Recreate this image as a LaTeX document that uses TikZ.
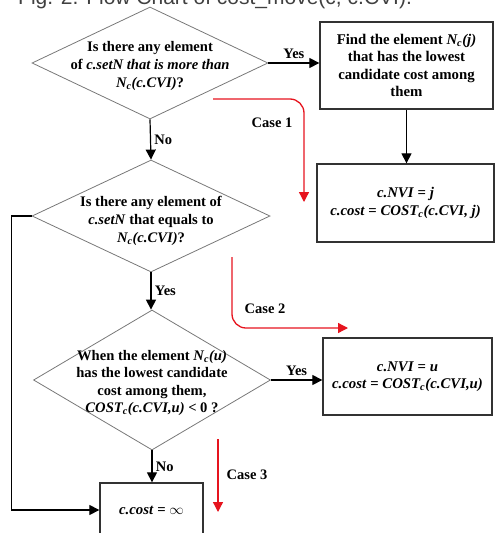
\documentclass[tikz,border=0pt]{standalone}
\usepackage{fontspec}
\setmainfont{Liberation Serif}
\newfontfamily\titlefont{Liberation Sans}
\usepackage{tikz}
\usetikzlibrary{shapes.geometric, arrows.meta, calc}
\definecolor{diamondline}{RGB}{120,120,120}
\definecolor{boxline}{RGB}{50,50,50}
\definecolor{casered}{RGB}{230,20,30}

\begin{document}
\begin{tikzpicture}[x=1pt, y=-1pt,
        decision/.style={diamond, draw=diamondline, line width=0.8pt, inner sep=0pt},
        process/.style={rectangle, draw=boxline, line width=1.3pt, inner sep=0pt, align=center, font=\fontsize{14.8}{17.5}\selectfont\bfseries},
        dtext/.style={align=center, inner sep=0pt, font=\fontsize{14.6}{18}\selectfont\bfseries},
        lbl/.style={font=\fontsize{14.5}{17}\selectfont\bfseries},
        flow/.style={draw, line width=1.2pt, -{Triangle[length=10pt, width=10pt]}},
        casearrow/.style={draw=casered, line width=1.3pt, rounded corners=14pt, -{Triangle[length=10pt, width=10pt]}}
    ]
    \useasboundingbox (0,0) rectangle (497,533);

    % caption, cut at the top edge
    \node[anchor=base west, inner sep=0pt, text=black!75, font=\titlefont\fontsize{21}{25}\selectfont] (title) at (18,4) {Fig. 2. Flow Chart of cost\_move(c, c.CVI).};

    % decisions
    \node[decision, minimum width=236pt, minimum height=112pt] (d1) at (150,63) {};
    \node[dtext] (d1txt) at (150,66) {Is there any element\\of \textit{c.setN that is more than}\\\textit{N\textsubscript{c}(c.CVI)}?};

    \node[decision, minimum width=238pt, minimum height=112pt] (d2) at (151,216) {};
    \node[dtext] (d2txt) at (151,221) {Is there any element of\\\textit{c.setN} that equals to\\\textit{N\textsubscript{c}(c.CVI)}?};

    \node[decision, minimum width=237pt, minimum height=140pt] (d3) at (152,380) {};
    \node[dtext, font=\fontsize{14.6}{17.5}\selectfont\bfseries] (d3txt) at (152,383) {When the element \textit{N\textsubscript{c}(u)}\\has the lowest candidate\\cost among them,\\\textit{COST\textsubscript{c}(c.CVI,u)} < 0 ?};

    % process boxes
    \node[process, minimum width=173pt, minimum height=87pt] (b1) at (406.5,65.5) {Find the element \textit{N\textsubscript{c}(j)}\\that has the lowest\\candidate cost among\\them};
    \node[process, minimum width=177pt, minimum height=78pt] (b2) at (405.5,203) {\textit{c.NVI} = \textit{j}\\\textit{c.cost} = \textit{COST\textsubscript{c}(c.CVI, j)}};
    \node[process, minimum width=169pt, minimum height=77pt] (b3) at (407.5,376.5) {\textit{c.NVI} = \textit{u}\\\textit{c.cost} = \textit{COST\textsubscript{c}(c.CVI,u)}};
    \node[process, minimum width=103pt, minimum height=54pt] (b4) at (151.5,510) {\textit{c.cost} = $\infty$};

    % flow
    \draw[flow] (d1.east) -- (d1.east -| b1.west) node[lbl, midway, above] (yes1) {Yes};
    \draw[flow] (d1.south) -- (d2.north) node[lbl, midway, right] (no1) {No};
    \draw[flow] (b1.south) -- (b1.south |- b2.north);
    \draw[flow] (d2.south) -- (d2.south |- d3.north) node[lbl, midway, right] (yes2) {Yes};
    \draw[flow] (d3.east) -- (d3.east -| b3.west) node[lbl, midway, above] (yes3) {Yes};
    \draw[flow] (d3.south) -- (d3.south |- b4.north) node[lbl, midway, right] (no3) {No};
    \draw[flow] (d2.west) -- ++(-20,0) |- (b4.west);

    % cases
    \coordinate (c1s) at (213,99);
    \coordinate (c1e) at (304,202);
    \coordinate (c2s) at (232,257);
    \coordinate (c2e) at (348,328);
    \coordinate (c3s) at (218,439);
    \coordinate (c3e) at (218,512);
    \draw[casearrow] (c1s) -| (c1e);
    \draw[casearrow] (c2s) |- (c2e);
    \draw[casearrow] (c3s) -- (c3e);
    \node[lbl] (case1) at (272,123) {Case 1};
    \node[lbl] (case2) at (265,309) {Case 2};
    \node[lbl] (case3) at (247,475) {Case 3};
\end{tikzpicture}
\end{document}
